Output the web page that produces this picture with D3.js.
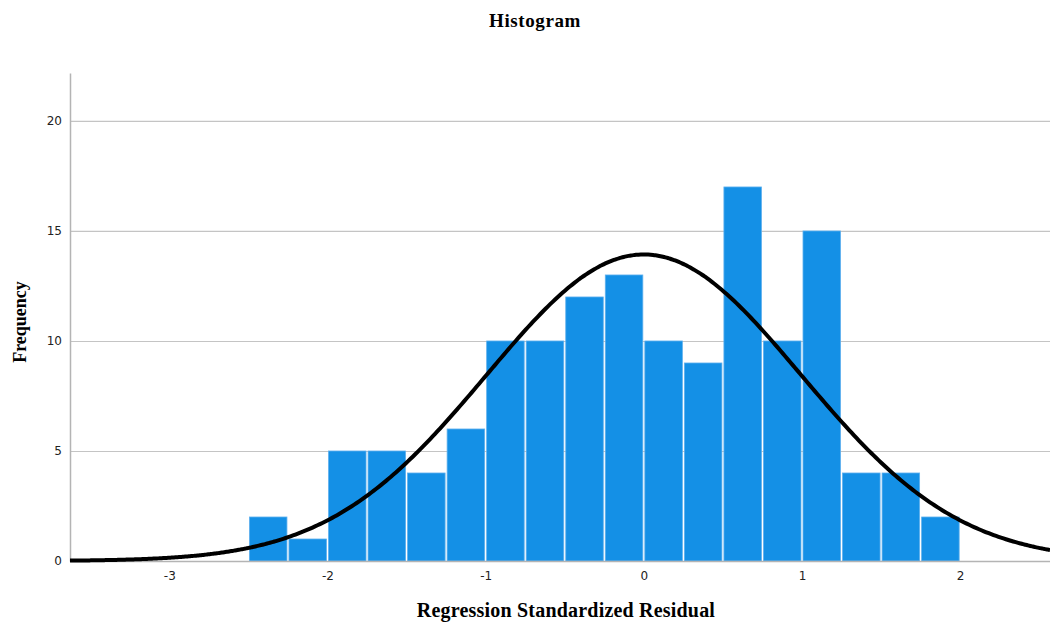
<!DOCTYPE html>
<html><head><meta charset="utf-8">
<script src="https://cdn.jsdelivr.net/npm/d3@7"></script>
<style>body{margin:0;background:#fff}</style>
</head><body>
<svg id="c" width="1050" height="624"></svg>
<script>
const binStarts = [-2.5,-2.25,-2.0,-1.75,-1.5,-1.25,-1.0,-0.75,-0.5,-0.25,0.0,0.25,0.5,0.75,1.0,1.25,1.5,1.75];
const counts    = [2,1,5,5,4,6,10,10,12,13,10,9,17,10,15,4,4,2];
const binWidth = 0.25;
const curveMean = 0;
const curveSd = 0.995;
const xTicks = [-3,-2,-1,0,1,2];
const yTicks = [0,5,10,15,20];

const svg = d3.select("#c");
const L=70, R=1050, T=73, B=561;
const x = d3.scaleLinear().domain([-3.628, 2.568]).range([L, R]);
const y = d3.scaleLinear().domain([0, 22.18]).range([B, T]);
const fmt = d => String(d); // hyphen-minus like reference

// gridlines
svg.append("g").selectAll("line").data(yTicks.filter(d=>d>0)).join("line")
  .attr("x1",L).attr("x2",R).attr("y1",d=>y(d)+0.5).attr("y2",d=>y(d)+0.5)
  .attr("stroke","#c4c4c4").attr("stroke-width",1.2);

// bars
svg.append("g").selectAll("rect").data(counts).join("rect")
  .attr("x",(d,i)=>x(binStarts[i])+1)
  .attr("width",(d,i)=>x(binStarts[i]+binWidth)-x(binStarts[i])-2)
  .attr("y",d=>y(d))
  .attr("height",d=>B-y(d))
  .attr("fill","#1490e6").attr("stroke","#5fb0ee").attr("stroke-width",0.8);

// axes
const xAxis = d3.axisBottom(x).tickValues(xTicks).tickSize(0).tickPadding(10).tickFormat(fmt);
const gx = svg.append("g").attr("transform",`translate(0,${B})`).call(xAxis);
gx.select(".domain").attr("stroke","#b4b4b4").attr("stroke-width",1.5);
gx.selectAll("text").attr("font-family","DejaVu Sans, sans-serif").attr("font-size",12).attr("fill","#222");

const yAxis = d3.axisLeft(y).tickValues(yTicks).tickSize(0).tickPadding(8).tickFormat(fmt);
const gy = svg.append("g").attr("transform",`translate(${L},0)`).call(yAxis);
gy.select(".domain").attr("stroke","#b4b4b4").attr("stroke-width",1.5);
gy.selectAll("text").attr("font-family","DejaVu Sans, sans-serif").attr("font-size",12).attr("fill","#222");

// normal curve
const N = d3.sum(counts);
const pdf = v => N*binWidth/(curveSd*Math.sqrt(2*Math.PI))*Math.exp(-0.5*((v-curveMean)/curveSd)**2);
const xs = d3.range(0,401).map(i=>x.domain()[0]+(x.domain()[1]-x.domain()[0])*i/400);
svg.append("path").datum(xs)
  .attr("d", d3.line().x(d=>x(d)).y(d=>y(pdf(d))).curve(d3.curveBasis))
  .attr("fill","none").attr("stroke","#000").attr("stroke-width",4);

// titles
svg.append("text").attr("x",535).attr("y",27).attr("text-anchor","middle")
  .attr("font-family","Liberation Serif, serif").attr("font-weight","bold").attr("font-size",19)
  .attr("letter-spacing",0.6).text("Histogram");
svg.append("text").attr("x",566).attr("y",617).attr("text-anchor","middle")
  .attr("font-family","Liberation Serif, serif").attr("font-weight","bold").attr("font-size",20)
  .attr("letter-spacing",0.2).text("Regression Standardized Residual");
svg.append("text").attr("transform","translate(26,322) rotate(-90)").attr("text-anchor","middle")
  .attr("font-family","Liberation Serif, serif").attr("font-weight","bold").attr("font-size",18).text("Frequency");
</script>
</body></html>
